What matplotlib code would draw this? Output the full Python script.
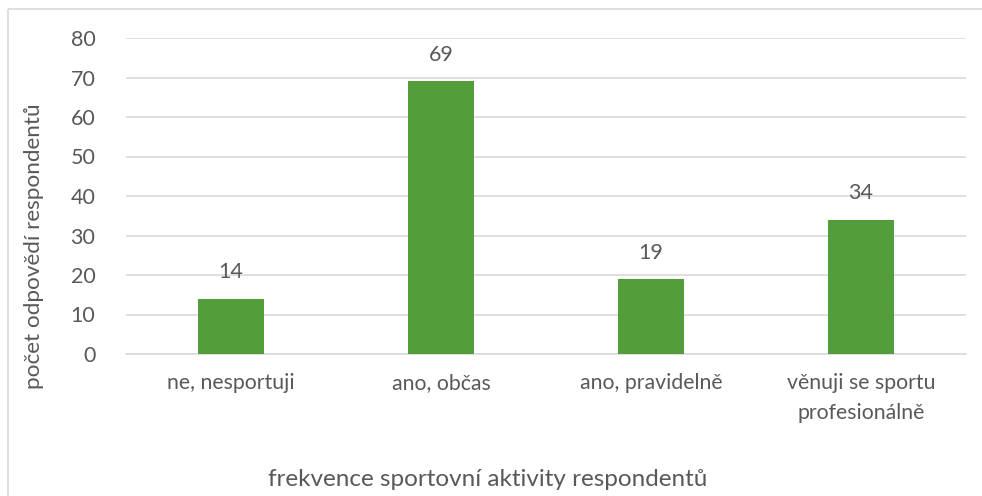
import matplotlib.pyplot as plt
from matplotlib.patches import Rectangle

# Data
kategorie = ['ne, nesportuji', 'ano, občas', 'ano, pravidelně', 'věnuji se sportu\nprofesionálně']
pocty = [14, 69, 19, 34]
y_ticks = [0, 10, 20, 30, 40, 50, 60, 70, 80]

plt.rcParams['font.family'] = ['Lato', 'DejaVu Sans']
text_barva = '#595959'

fig = plt.figure(figsize=(9.82, 4.96), dpi=100)
W, H = 982, 496

# Rámeček grafu
fig.patches.append(Rectangle((8 / W, 1 - 9 / H), 2, -2, transform=fig.transFigure,
                             fill=False, edgecolor='#D9D9D9', linewidth=1.2))

ax = fig.add_axes([126 / W, 1 - 354 / H, 840 / W, 316 / H])
x = range(len(kategorie))
bars = ax.bar(x, pocty, width=0.314, color='#539E3B', zorder=3)

for xi, v in zip(x, pocty):
    ax.annotate(str(v), (xi, v), xytext=(0, 19), textcoords='offset points',
                ha='center', va='center', fontsize=15.5, color=text_barva)

ax.set_xlim(-0.5, len(kategorie) - 0.5)
ax.set_ylim(0, 80)
ax.set_yticks(y_ticks)
ax.set_xticks(list(x))
ax.set_xticklabels(kategorie, fontsize=15.3, color=text_barva, linespacing=1.6)
ax.tick_params(axis='y', labelsize=15.5, labelcolor=text_barva, length=0, pad=22)
ax.tick_params(axis='x', length=0, pad=14)

ax.grid(axis='y', color='#D9D9D9', linewidth=1.2, zorder=0)
for s in ['top', 'right', 'left']:
    ax.spines[s].set_visible(False)
ax.spines['bottom'].set_color('#D9D9D9')
ax.spines['bottom'].set_linewidth(1.2)

fig.text(34 / W, 1 - 246 / H, 'počet odpovědí respondentů', rotation=90,
         ha='center', va='center', fontsize=16.2, color=text_barva)
fig.text(488 / W, 1 - 479 / H, 'frekvence sportovní aktivity respondentů',
         ha='center', va='center', fontsize=17.5, color=text_barva)

plt.savefig('out.png', dpi=100)
